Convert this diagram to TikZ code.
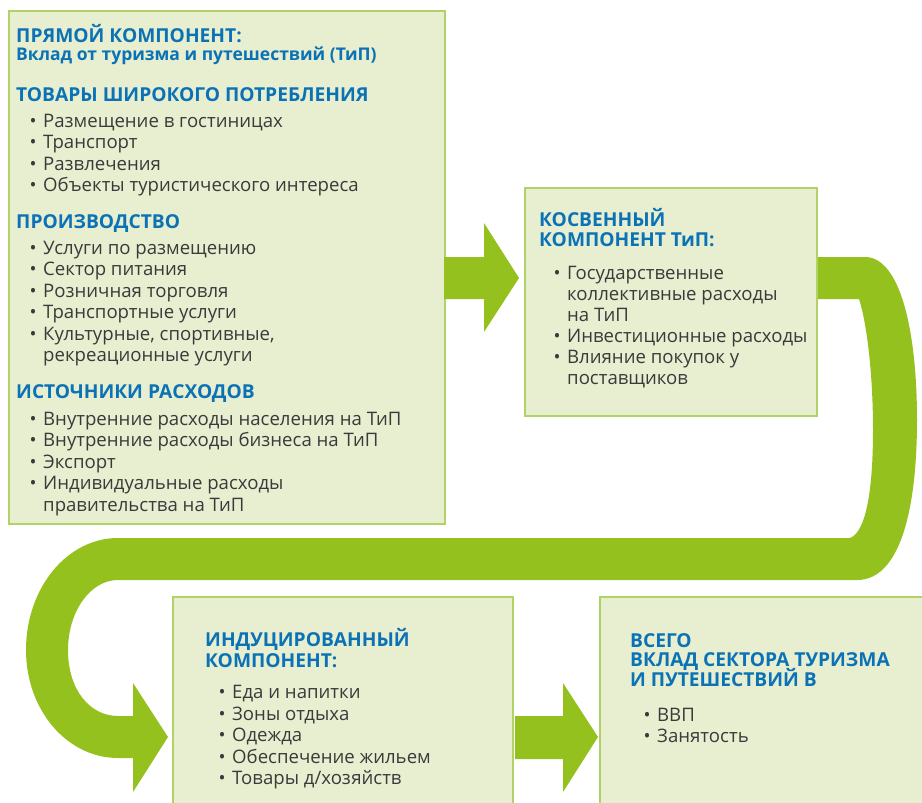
\documentclass[tikz,border=0pt]{standalone}
\usepackage{fontspec}
\setmainfont{Open Sans}
\definecolor{boxfill}{HTML}{E8EFD1}
\definecolor{boxline}{HTML}{B0D266}
\definecolor{arrgreen}{HTML}{95C11F}
\definecolor{headblue}{HTML}{0A72B5}
\definecolor{bodytext}{HTML}{3A3A3A}
\newcommand{\bul}{\llap{\textbullet\hspace{6.5pt}}}
\begin{document}
\begin{tikzpicture}[x=1pt,y=-1pt,
  box/.style={draw=boxline, fill=boxfill, line width=1.5pt, inner sep=0pt, anchor=north west},
  head/.style={anchor=base west, inner sep=0pt, text=headblue, font=\fontsize{19.2}{20}\selectfont\bfseries},
  sub/.style={anchor=base west, inner sep=0pt, text=headblue, font=\fontsize{17.5}{18}\selectfont\bfseries},
  item/.style={anchor=base west, inner sep=0pt, text=bodytext, font=\fontsize{18.6}{20}\selectfont},
  bigarrow/.style={fill=arrgreen, draw=none}]
\useasboundingbox (0,0) rectangle (922,803);
% boxes
\node[box, minimum width=436pt, minimum height=513pt] (b1) at (8,10) {};
\node[box, minimum width=292pt, minimum height=228pt] (b2) at (524,187) {};
\node[box, minimum width=340pt, minimum height=230pt] (b3) at (172,596) {};
\node[box, minimum width=340pt, minimum height=230pt] (b4) at (599,596) {};
% arrows
\fill[bigarrow] (444,257) -- (484,257) -- (484,223) -- (519,278) -- (484,332) -- (484,299) -- (444,299) -- cycle;
\fill[bigarrow] (515,716) -- (563,716) -- (563,683) -- (598,737) -- (563,792) -- (563,759) -- (515,759) -- cycle;
\fill[bigarrow] (818,257) -- (865,257)
  .. controls (900,257) and (917,330) .. (917,420)
  .. controls (917,510) and (900,580) .. (857,580)
  -- (118,580)
  .. controls (90,580) and (68,612) .. (68,650)
  .. controls (68,690) and (90,716) .. (118,716)
  -- (133,716) -- (133,683) -- (168,737) -- (133,792) -- (133,758) -- (118,758)
  .. controls (67,758) and (26,710) .. (26,650)
  .. controls (26,588) and (67,538) .. (118,538)
  -- (850,538)
  .. controls (866,532) and (873,490) .. (873,430)
  .. controls (873,370) and (866,320) .. (859,299)
  -- (818,299) -- cycle;
% box 1 text
\node[head] (h1) at (16,42) {ПРЯМОЙ КОМПОНЕНТ:};
\node[sub] (h1s) at (16,60) {Вклад от туризма и путешествий (ТиП)};
\node[head] (h2) at (16,101) {ТОВАРЫ ШИРОКОГО ПОТРЕБЛЕНИЯ};
\node[item] (a1) at (43,127) {\bul Размещение в гостиницах};
\node[item] (a2) at (43,148.5) {\bul Транспорт};
\node[item] (a3) at (43,170) {\bul Развлечения};
\node[item] (a4) at (43,191.5) {\bul Объекты туристического интереса};
\node[head] (h3) at (16,228) {ПРОИЗВОДСТВО};
\node[item] (p1) at (43,254) {\bul Услуги по размещению};
\node[item] (p2) at (43,275.5) {\bul Сектор питания};
\node[item] (p3) at (43,297) {\bul Розничная торговля};
\node[item] (p4) at (43,318.5) {\bul Транспортные услуги};
\node[item] (p5) at (43,340) {\bul Культурные, спортивные,};
\node[item] (p6) at (43,361.5) {рекреационные услуги};
\node[head] (h4) at (16,398) {ИСТОЧНИКИ РАСХОДОВ};
\node[item] (s1) at (43,425) {\bul Внутренние расходы населения на ТиП};
\node[item] (s2) at (43,446.5) {\bul Внутренние расходы бизнеса на ТиП};
\node[item] (s3) at (43,468) {\bul Экспорт};
\node[item] (s4) at (43,489.5) {\bul Индивидуальные расходы};
\node[item] (s5) at (43,511) {правительства на ТиП};
% box 2 text
\node[head] (k1) at (539,226) {КОСВЕННЫЙ};
\node[head] (k2) at (539,246) {КОМПОНЕНТ ТиП:};
\node[item] (c1) at (567,279) {\bul Государственные};
\node[item] (c2) at (567,300) {коллективные расходы};
\node[item] (c3) at (567,321) {на ТиП};
\node[item] (c4) at (567,342) {\bul Инвестиционные расходы};
\node[item] (c5) at (567,363) {\bul Влияние покупок у};
\node[item] (c6) at (567,384) {поставщиков};
% box 3 text
\node[head] (i1) at (205,646) {ИНДУЦИРОВАННЫЙ};
\node[head] (i2) at (205,667) {КОМПОНЕНТ:};
\node[item] (d1) at (232,698.5) {\bul Еда и напитки};
\node[item] (d2) at (232,720) {\bul Зоны отдыха};
\node[item] (d3) at (232,741.5) {\bul Одежда};
\node[item] (d4) at (232,763) {\bul Обеспечение жильем};
\node[item] (d5) at (232,784.5) {\bul Товары д/хозяйств};
% box 4 text
\node[head] (v1) at (630,647) {ВСЕГО};
\node[head] (v2) at (630,666.5) {ВКЛАД СЕКТОРА ТУРИЗМА};
\node[head] (v3) at (630,686) {И ПУТЕШЕСТВИЙ В};
\node[item] (g1) at (657,721) {\bul ВВП};
\node[item] (g2) at (657,742) {\bul Занятость};
\end{tikzpicture}
\end{document}
